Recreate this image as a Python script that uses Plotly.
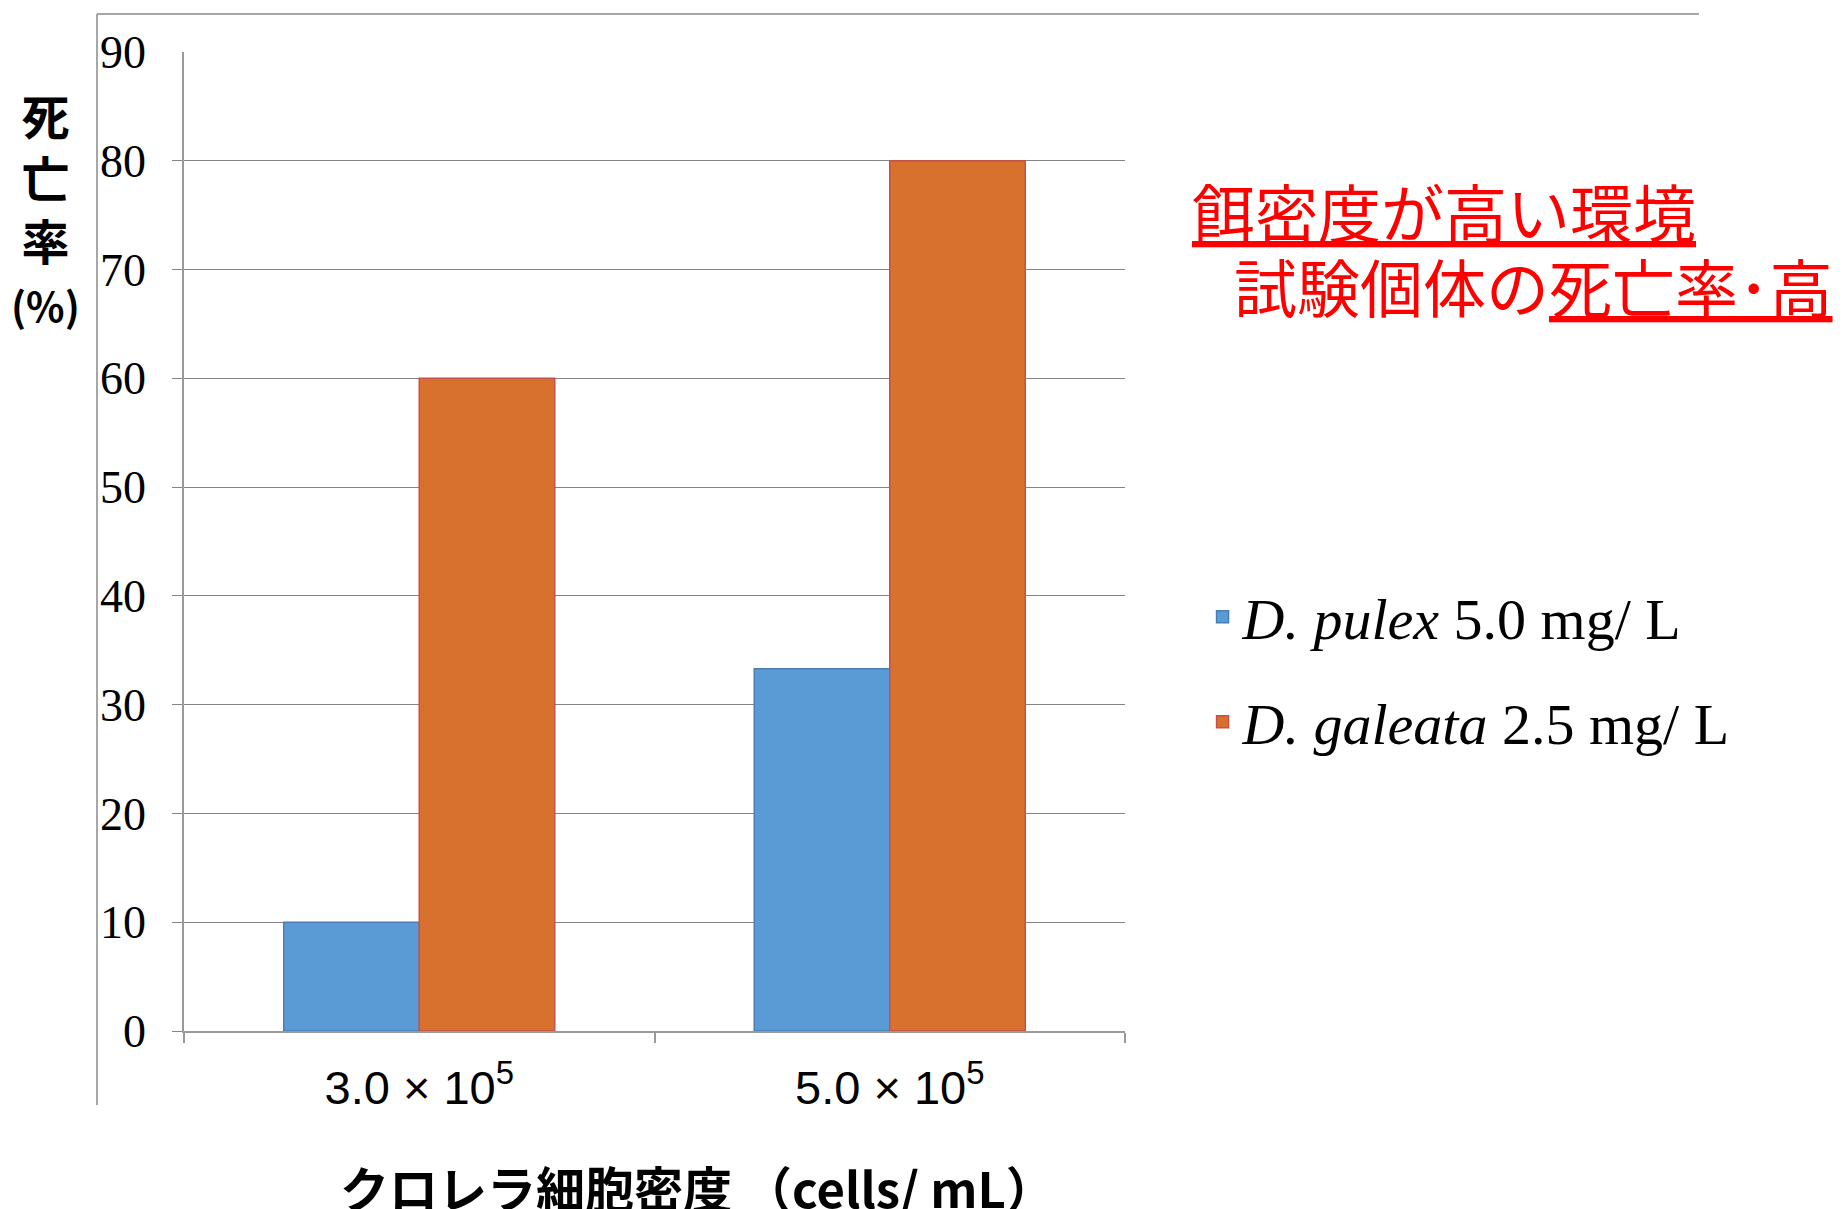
import plotly.graph_objects as go

categories = ["3.0 × 10<sup>5</sup>", "5.0 × 10<sup>5</sup>"]
pulex_values = [10, 33.3]
galeata_values = [60, 80]
series_names = ["<i>D. pulex</i> 5.0 mg/ L", "<i>D. galeata</i> 2.5 mg/ L"]
y_ticks = [0, 10, 20, 30, 40, 50, 60, 70, 80, 90]
grid_ticks = [0, 10, 20, 30, 40, 50, 60, 70, 80]

BLUE = "#5B9BD5"
ORANGE = "#D9712E"

fig = go.Figure()
fig.add_trace(go.Bar(
    x=categories, y=pulex_values, name=series_names[0],
    marker=dict(color=BLUE, line=dict(color="#4A7FB5", width=1.5)),
    legend="legend",
))
fig.add_trace(go.Bar(
    x=categories, y=galeata_values, name=series_names[1],
    marker=dict(color=ORANGE, line=dict(color="#C8504A", width=1.5)),
    legend="legend2",
))

L, R, T, B = 184, 718, 52, 178
W, H = 1843, 1209
pw = W - L - R
ph = H - T - B

def px(x):
    return (x - L) / pw

def py(y):
    return (H - B - y) / ph

fig.update_layout(
    width=W, height=H,
    margin=dict(l=L, r=R, t=T, b=B),
    paper_bgcolor="white", plot_bgcolor="white",
    barmode="group", bargap=0.424, bargroupgap=0,
    font=dict(family="Liberation Serif", color="black"),
    xaxis=dict(
        type="category",
        showline=True, linecolor="#9a9a9a", linewidth=1.5,
        ticks="outside", tickson="boundaries", ticklen=10, tickcolor="#9a9a9a", tickwidth=1.5,
        tickfont=dict(family="Liberation Sans", size=47, color="black"),
        ticklabelstandoff=15,
        showgrid=False,
    ),
    yaxis=dict(
        range=[0, 90],
        tickvals=y_ticks,
        showline=True, linecolor="#9a9a9a", linewidth=1.5,
        ticks="", showgrid=False, zeroline=False,
        tickfont=dict(family="Liberation Serif", size=46, color="black"),
        ticklabelstandoff=27,
        minor=dict(tickvals=grid_ticks, showgrid=True, gridcolor="#858585", gridwidth=1.3,
                   ticks="outside", ticklen=10, tickcolor="#858585", tickwidth=1.3),
    ),
    legend=dict(
        xref="container", yref="container", x=0.6525, y=1 - 617 / H,
        xanchor="left", yanchor="middle",
        font=dict(family="Liberation Serif", size=58, color="black"),
        bgcolor="rgba(0,0,0,0)",
    ),
    legend2=dict(
        xref="container", yref="container", x=0.6525, y=1 - 722 / H,
        xanchor="left", yanchor="middle",
        font=dict(family="Liberation Serif", size=58, color="black"),
        bgcolor="rgba(0,0,0,0)",
    ),
    showlegend=True,
)

# Y-axis title (vertical stacked)
fig.add_annotation(
    text="死<br>亡<br>率<br><span style='font-size:40px'>(%)</span>", xref="paper", yref="paper",
    x=px(45), y=py(207), xanchor="center", yanchor="middle", showarrow=False,
    font=dict(family="Noto Sans CJK JP", size=48, color="black", weight="bold"),
)
# X-axis title
fig.add_annotation(
    text="クロレラ細胞密度 （cells/ mL）", xref="paper", yref="paper",
    x=px(697), y=py(1186), xanchor="center", yanchor="middle", showarrow=False,
    font=dict(family="Noto Sans CJK JP", size=49, color="black", weight="bold"),
)
# Red notes
fig.add_annotation(
    text="<u>餌密度が高い環境</u>", xref="paper", yref="paper",
    x=px(1190), y=py(210), xanchor="left", yanchor="middle", showarrow=False,
    font=dict(family="Noto Sans CJK JP", size=63, color="#FF0000"),
)
fig.add_annotation(
    text="試験個体の<u>死亡率･高</u>", xref="paper", yref="paper",
    x=px(1232), y=py(284), xanchor="left", yanchor="middle", showarrow=False,
    font=dict(family="Noto Sans CJK JP", size=63, color="#FF0000"),
)

# Outer frame lines (top and left)
fig.add_shape(type="line", xref="paper", yref="paper",
              x0=px(97), x1=px(1699), y0=py(14), y1=py(14),
              line=dict(color="#8a8a8a", width=1.5))
fig.add_shape(type="line", xref="paper", yref="paper",
              x0=px(97), x1=px(97), y0=py(14), y1=py(1105),
              line=dict(color="#8a8a8a", width=1.5))

fig.write_html("out.html")
